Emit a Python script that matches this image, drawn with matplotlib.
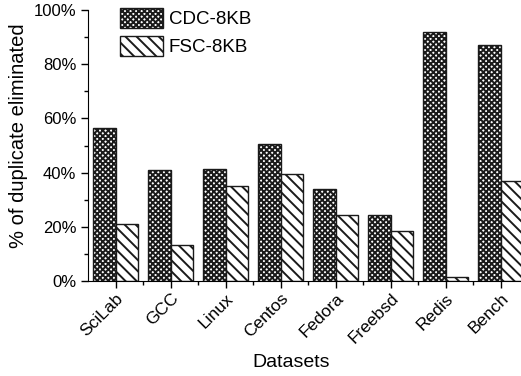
import matplotlib.pyplot as plt
import numpy as np
from matplotlib.ticker import MultipleLocator, PercentFormatter, FixedLocator

plt.rcParams['font.family'] = ['Liberation Sans', 'DejaVu Sans']
plt.rcParams['hatch.linewidth'] = 1.4

datasets = ['SciLab', 'GCC', 'Linux', 'Centos', 'Fedora', 'Freebsd', 'Redis', 'Bench']
cdc_8kb = [56.5, 41, 41.3, 50.5, 34, 24.2, 91.8, 87]
fsc_8kb = [21, 13.3, 35, 39.5, 24.2, 18.4, 1.5, 37]

fig = plt.figure(figsize=(5.21, 3.76), dpi=100)
ax = fig.add_axes([88 / 521, 1 - 281 / 376, 1 - 88 / 521, 271 / 376])

x = np.arange(len(datasets))
w = 0.405
ax.bar(x - w / 2, cdc_8kb, w, color='white', edgecolor='#1a1a1a', hatch='xxxxxx',
       linewidth=1.0, label='CDC-8KB')
ax.bar(x + w / 2, fsc_8kb, w, color='white', edgecolor='#1a1a1a', hatch='\\\\\\',
       linewidth=1.0, label='FSC-8KB')

ax.set_xlim(-0.5, 7.37)
ax.set_ylim(0, 100)
ax.spines['top'].set_visible(False)
ax.spines['right'].set_visible(False)

ax.yaxis.set_major_locator(MultipleLocator(20))
ax.yaxis.set_minor_locator(MultipleLocator(10))
ax.yaxis.set_major_formatter(PercentFormatter(decimals=0))
ax.set_xticks(x)
ax.set_xticklabels(datasets, rotation=45, ha='right', rotation_mode='anchor', fontsize=12.5)
ax.xaxis.set_minor_locator(FixedLocator(x[:-1] + 0.5))
ax.tick_params(axis='both', which='major', direction='out', length=5, width=1)
ax.tick_params(axis='both', which='minor', direction='out', length=3, width=1)
ax.tick_params(axis='y', labelsize=12)
ax.tick_params(axis='x', pad=2)

ax.set_ylabel('% of duplicate eliminated', fontsize=14.5)
ax.yaxis.set_label_coords(-0.138, 0.535)
ax.set_xlabel('Datasets', fontsize=14)
ax.xaxis.set_label_coords(0.47, -0.27)

ax.legend(loc='upper left', bbox_to_anchor=(118 / 521, 1 - 6 / 376),
          bbox_transform=fig.transFigure, frameon=False,
          fontsize=13.5, handlelength=2.3, handleheight=1.3, labelspacing=0.4,
          borderaxespad=0, handletextpad=0.3, borderpad=0.1)

fig.savefig('out.png', dpi=100)
